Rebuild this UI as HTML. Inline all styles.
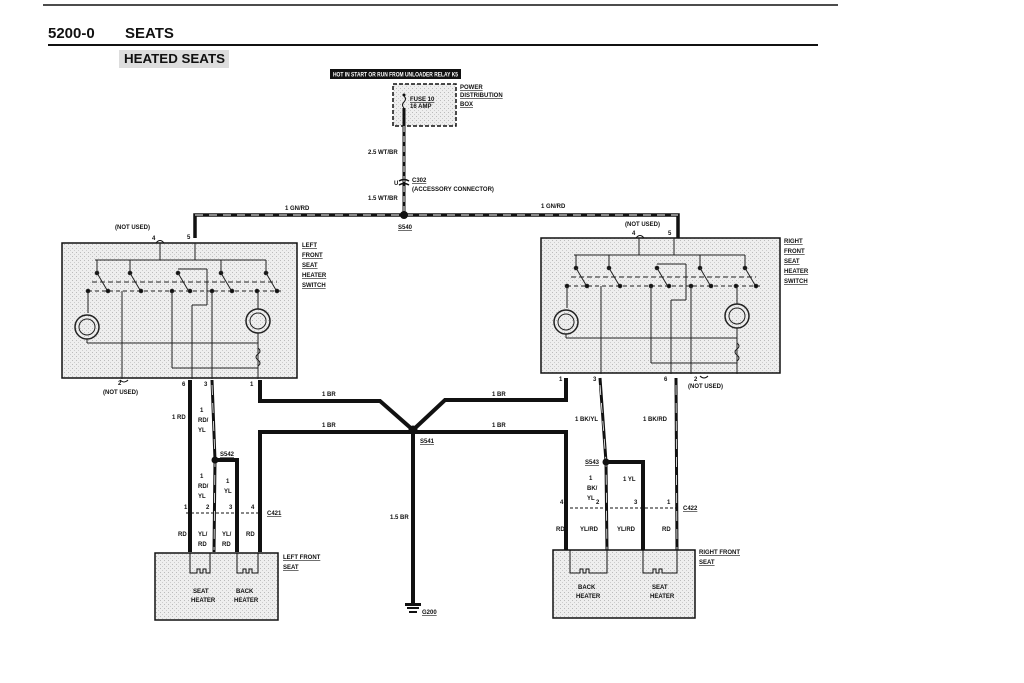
<!DOCTYPE html>
<html><head><meta charset="utf-8"><style>
html,body{margin:0;padding:0;background:#fff;}
svg{display:block;}
text{font-family:"Liberation Sans",sans-serif;font-weight:bold;fill:#111;}
.s{font-size:6px;}
.u{text-decoration:underline;}
</style></head><body>
<svg width="1024" height="683" viewBox="0 0 1024 683" xmlns="http://www.w3.org/2000/svg">
<defs>
<pattern id="dots" width="4" height="4" patternUnits="userSpaceOnUse">
<rect width="4" height="4" fill="#eeeeee"/><rect x="0" y="0" width="1" height="1" fill="#bbb"/><rect x="2" y="2" width="1" height="1" fill="#ccc"/>
</pattern>
<g id="sw" fill="none" stroke="#222" stroke-width="1">
<line x1="33" y1="17" x2="204" y2="17"/>
<line x1="98" y1="0" x2="98" y2="17"/>
<line x1="133" y1="0" x2="133" y2="17"/>
<g><circle cx="35" cy="30" r="1.8" fill="#111"/><line x1="35" y1="30" x2="45" y2="47"/><line x1="35" y1="17" x2="35" y2="30"/></g>
<g><circle cx="68" cy="30" r="1.8" fill="#111"/><line x1="68" y1="30" x2="78" y2="47"/><line x1="68" y1="17" x2="68" y2="30"/></g>
<g><circle cx="116" cy="30" r="1.8" fill="#111"/><line x1="116" y1="30" x2="126" y2="47"/><line x1="116" y1="26" x2="145" y2="26"/><line x1="145" y1="26" x2="145" y2="62"/><line x1="145" y1="62" x2="130" y2="62"/><line x1="130" y1="62" x2="130" y2="136"/></g>
<g><circle cx="159" cy="30" r="1.8" fill="#111"/><line x1="159" y1="30" x2="169" y2="47"/><line x1="159" y1="17" x2="159" y2="30"/></g>
<g><circle cx="204" cy="30" r="1.8" fill="#111"/><line x1="204" y1="30" x2="214" y2="47"/><line x1="204" y1="17" x2="204" y2="30"/></g>
<line x1="30" y1="39" x2="215" y2="39" stroke-dasharray="5,3"/>
<line x1="26" y1="48" x2="220" y2="48" stroke-dasharray="4,3"/>
<g fill="#111"><circle cx="26" cy="48" r="1.8"/><circle cx="46" cy="48" r="1.8"/><circle cx="79" cy="48" r="1.8"/><circle cx="110" cy="48" r="1.8"/><circle cx="128" cy="48" r="1.8"/><circle cx="150" cy="48" r="1.8"/><circle cx="170" cy="48" r="1.8"/><circle cx="195" cy="48" r="1.8"/><circle cx="215" cy="48" r="1.8"/></g>
<line x1="26" y1="48" x2="26" y2="70"/>
<circle cx="25" cy="84" r="12" stroke-width="1.5"/><circle cx="25" cy="84" r="8"/>
<line x1="25" y1="96" x2="25" y2="100"/>
<line x1="25" y1="100" x2="196" y2="100"/>
<line x1="196" y1="48" x2="196" y2="66"/>
<circle cx="196" cy="78" r="12" stroke-width="1.5"/><circle cx="196" cy="78" r="8"/>
<line x1="196" y1="90" x2="196" y2="136"/>
<path d="M196 105 q4 3 0 6 q-4 3 0 6 q4 3 0 6" />
<line x1="110" y1="48" x2="110" y2="125"/><line x1="110" y1="125" x2="196" y2="125"/>
<line x1="60" y1="48" x2="60" y2="136"/>
<line x1="150" y1="48" x2="150" y2="136"/>
</g>
</defs>

<line x1="43" y1="5" x2="838" y2="5" stroke="#111" stroke-width="1.5"/>
<text x="48" y="38" style="font-size:15px">5200-0</text>
<text x="125" y="38" style="font-size:15px">SEATS</text>
<line x1="48" y1="45" x2="818" y2="45" stroke="#111" stroke-width="2"/>
<rect x="119" y="50" width="110" height="18" fill="#ddd"/>
<text x="124" y="63" style="font-size:13px" textLength="101" lengthAdjust="spacingAndGlyphs">HEATED SEATS</text>

<rect x="330" y="69" width="131" height="10" fill="#111"/>
<text x="333" y="76.5" style="font-size:6px;fill:#fff" textLength="125" lengthAdjust="spacingAndGlyphs">HOT IN START OR RUN FROM UNLOADER RELAY K5</text>
<rect x="393" y="84" width="63" height="42" fill="url(#dots)" stroke="#111" stroke-width="1.5" stroke-dasharray="4,2"/>
<text x="410" y="101" class="s u">FUSE 10</text><text x="410" y="108" class="s">16 AMP</text>
<text x="460" y="89" class="s u">POWER</text><text x="460" y="97" class="s u">DISTRIBUTION</text><text x="460" y="106" class="s u">BOX</text>
<circle cx="404" cy="95" r="1.5" fill="#111"/>
<path d="M404 96 q3 3 0 6 q-3 3 0 6" stroke="#111" fill="none"/>
<line x1="404" y1="108" x2="404" y2="215" stroke="#111" stroke-width="3"/>
<line x1="404" y1="126" x2="404" y2="215" stroke="#fff" stroke-width="1" stroke-dasharray="6,4"/>
<path d="M399 181 q5 -3 10 0 M399 185 q5 -3 10 0" stroke="#111" fill="none" stroke-width="1.5"/>
<text x="368" y="154" class="s">2.5 WT/BR</text>
<text x="394" y="185" class="s">U</text>
<text x="412" y="182" class="s u">C302</text>
<text x="412" y="191" class="s">(ACCESSORY CONNECTOR)</text>
<text x="368" y="200" class="s">1.5 WT/BR</text>

<path d="M195 238 V215 H678 V238" stroke="#111" stroke-width="3.5" fill="none"/>
<path d="M195 215 H678" stroke="#fff" stroke-width="1" stroke-dasharray="8,6" fill="none"/>
<circle cx="404" cy="215" r="4" fill="#111"/>
<text x="398" y="229" class="s u">S540</text>
<text x="285" y="210" class="s">1 GN/RD</text>
<text x="541" y="208" class="s">1 GN/RD</text>

<!-- left switch -->
<rect x="62" y="243" width="235" height="135" fill="url(#dots)" stroke="#111" stroke-width="1.5"/>
<use href="#sw" x="62" y="243"/>
<text x="302" y="247" class="s u">LEFT</text><text x="302" y="257" class="s u">FRONT</text><text x="302" y="267" class="s u">SEAT</text><text x="302" y="277" class="s u">HEATER</text><text x="302" y="287" class="s u">SWITCH</text>
<text x="115" y="229" class="s">(NOT USED)</text>
<text x="152" y="240" class="s">4</text><path d="M156 243 q4 -5 8 0" stroke="#111" fill="none"/>
<text x="187" y="239" class="s">5</text>
<text x="118" y="385" class="s">2</text><path d="M120 380 q4 4 8 0" stroke="#111" fill="none"/>
<text x="103" y="394" class="s">(NOT USED)</text>
<text x="182" y="386" class="s">6</text><text x="204" y="386" class="s">3</text><text x="250" y="386" class="s">1</text>

<!-- right switch -->
<rect x="541" y="238" width="239" height="135" fill="url(#dots)" stroke="#111" stroke-width="1.5"/>
<use href="#sw" x="541" y="238"/>
<text x="784" y="243" class="s u">RIGHT</text><text x="784" y="253" class="s u">FRONT</text><text x="784" y="263" class="s u">SEAT</text><text x="784" y="273" class="s u">HEATER</text><text x="784" y="283" class="s u">SWITCH</text>
<text x="625" y="226" class="s">(NOT USED)</text>
<text x="632" y="235" class="s">4</text><path d="M636 238 q4 -5 8 0" stroke="#111" fill="none"/>
<text x="668" y="235" class="s">5</text>
<text x="559" y="381" class="s">1</text><text x="593" y="381" class="s">3</text><text x="664" y="381" class="s">6</text><text x="694" y="381" class="s">2</text>
<path d="M700 376 q4 4 8 0" stroke="#111" fill="none"/>
<text x="688" y="388" class="s">(NOT USED)</text>

<!-- wires -->
<g stroke="#111" fill="none" stroke-width="4">
<path d="M190 380 V552"/>
<path d="M212 380 L215 460 L214 552" stroke-width="3"/>
<path d="M215 460 H237 V552"/>
<path d="M260 380 V401 H380 L413 430 L445 400 H566 V378"/>
<path d="M260 552 V432 H566 V552"/>
<path d="M413 430 V603"/>
<path d="M600 378 L606 462 L607 552" stroke-width="3"/>
<path d="M606 462 H643 V552"/>
<path d="M676 378 L677 552" stroke-width="3"/>
</g>
<g stroke="#fff" stroke-width="0.8" fill="none" stroke-dasharray="10,8">
<path d="M212 385 L215 460 L214 550"/><path d="M600 385 L606 462 L607 550"/><path d="M676 385 L677 550"/>
</g>
<circle cx="413" cy="430" r="4.5" fill="#111"/>
<circle cx="215" cy="460" r="3.5" fill="#111"/>
<circle cx="606" cy="462" r="3.5" fill="#111"/>
<rect x="405" y="603" width="16" height="3" fill="#111"/><rect x="407" y="607" width="12" height="2" fill="#111"/><rect x="409" y="611" width="8" height="2" fill="#111"/>
<text x="422" y="614" class="s u">G200</text>

<text x="322" y="396" class="s">1 BR</text><text x="492" y="396" class="s">1 BR</text>
<text x="322" y="427" class="s">1 BR</text><text x="492" y="427" class="s">1 BR</text>
<text x="420" y="443" class="s u">S541</text>
<text x="390" y="519" class="s">1.5 BR</text>

<text x="172" y="419" class="s">1 RD</text>
<text x="200" y="412" class="s">1</text><text x="198" y="422" class="s">RD/</text><text x="198" y="432" class="s">YL</text>
<text x="220" y="456" class="s u">S542</text>
<text x="200" y="478" class="s">1</text><text x="198" y="488" class="s">RD/</text><text x="198" y="498" class="s">YL</text>
<text x="226" y="483" class="s">1</text><text x="224" y="493" class="s">YL</text>

<line x1="186" y1="513" x2="262" y2="513" stroke="#111" stroke-dasharray="3,2"/>
<line x1="565" y1="508" x2="680" y2="508" stroke="#111" stroke-dasharray="3,2"/>
<text x="184" y="509" class="s">1</text><text x="206" y="509" class="s">2</text><text x="229" y="509" class="s">3</text><text x="251" y="509" class="s">4</text>
<text x="267" y="515" class="s u">C421</text>
<text x="178" y="536" class="s">RD</text>
<text x="198" y="536" class="s">YL/</text><text x="198" y="546" class="s">RD</text>
<text x="222" y="536" class="s">YL/</text><text x="222" y="546" class="s">RD</text>
<text x="246" y="536" class="s">RD</text>

<text x="575" y="421" class="s">1 BK/YL</text><text x="643" y="421" class="s">1 BK/RD</text>
<text x="585" y="464" class="s u">S543</text>
<text x="589" y="480" class="s">1</text><text x="587" y="490" class="s">BK/</text><text x="587" y="500" class="s">YL</text>
<text x="623" y="481" class="s">1 YL</text>
<text x="560" y="504" class="s">4</text><text x="596" y="504" class="s">2</text><text x="634" y="504" class="s">3</text><text x="667" y="504" class="s">1</text>
<text x="683" y="510" class="s u">C422</text>
<text x="556" y="531" class="s">RD</text><text x="580" y="531" class="s">YL/RD</text><text x="617" y="531" class="s">YL/RD</text><text x="662" y="531" class="s">RD</text>

<!-- seat boxes -->
<rect x="155" y="553" width="123" height="67" fill="url(#dots)" stroke="#111" stroke-width="1.5"/>
<g stroke="#111" fill="none">
<path d="M190 553 V573 H197 v-4 h3 v4 h3 v-4 h3 v4 h4 V553"/>
<path d="M237 553 V573 H243 v-4 h3 v4 h3 v-4 h3 v4 h6 V553"/>
</g>
<text x="193" y="593" class="s">SEAT</text><text x="191" y="602" class="s">HEATER</text>
<text x="236" y="593" class="s">BACK</text><text x="234" y="602" class="s">HEATER</text>
<text x="283" y="559" class="s u">LEFT FRONT</text><text x="283" y="569" class="s u">SEAT</text>

<rect x="553" y="550" width="142" height="68" fill="url(#dots)" stroke="#111" stroke-width="1.5"/>
<g stroke="#111" fill="none">
<path d="M570 550 V573 H580 v-4 h3 v4 h3 v-4 h3 v4 h18 V550"/>
<path d="M643 550 V573 H653 v-4 h3 v4 h3 v-4 h3 v4 h15 V550"/>
</g>
<text x="578" y="589" class="s">BACK</text><text x="576" y="598" class="s">HEATER</text>
<text x="652" y="589" class="s">SEAT</text><text x="650" y="598" class="s">HEATER</text>
<text x="699" y="554" class="s u">RIGHT FRONT</text><text x="699" y="564" class="s u">SEAT</text>
</svg>
</body></html>
